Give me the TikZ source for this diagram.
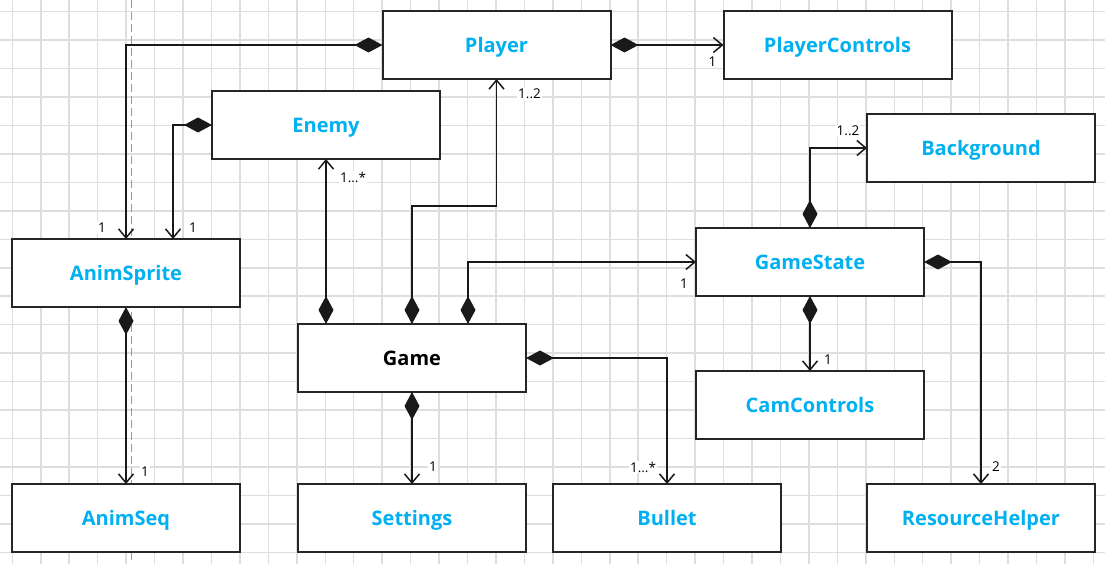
\documentclass[tikz,border=0pt]{standalone}
\usepackage{fontspec}
\setmainfont{Open Sans}
\usepackage{xcolor}
\usetikzlibrary{
    positioning,
    arrows.meta,
    calc
}
\definecolor{umlblue}{RGB}{0,176,240}
\tikzset{
    classbox/.style={
        rectangle, draw=black!85, line width=2pt, fill=white,
        minimum width=228pt, minimum height=68pt, outer sep=0pt,
        text height=17pt, text depth=2pt,
        font=\fontsize{20}{24}\selectfont\bfseries, text=umlblue
    },
    compose/.style={
        {Diamond[length=28pt,width=15pt]}-{Straight Barb[length=9pt,width=15pt]},
        line width=1.5pt, draw=black!90
    },
    multlabel/.style={
        font=\fontsize{13.5}{15}\selectfont, fill=white, inner sep=1pt
    },
    gridline/.style={
        draw=black!13, line width=1.5pt
    }
}

\begin{document}
\begin{tikzpicture}[x=1pt, y=-1pt, node distance=113pt]
    \useasboundingbox (0,0) rectangle (1105,564);
    \fill[white] (0,0) rectangle (1105,564);
    \foreach \gx in {0,...,38}
        \draw[gridline] (12.3+28.45*\gx,0) -- (12.3+28.45*\gx,564);
    \foreach \gy in {0,...,19}
        \draw[gridline] (0,11.7+28.45*\gy) -- (1105,11.7+28.45*\gy);
    \draw[black!40, line width=1pt, dash pattern=on 8pt off 4pt] (131,0) -- (131,564);

    \node[classbox] (player) at (496.5,45) {Player};
    \node[classbox, right=of player] (playerctl) {PlayerControls};
    \node[classbox] (enemy) at (326,125) {Enemy};
    \node[classbox] (animsprite) at (126,273) {AnimSprite};
    \node[classbox, below=177pt of animsprite] (animseq) {AnimSeq};
    \node[classbox, text=black] (game) at (412,358) {Game};
    \node[classbox, below=92pt of game] (settings) {Settings};
    \node[classbox, right=27pt of settings] (bullet) {Bullet};
    \node[classbox] (gamestate) at (810,262) {GameState};
    \node[classbox, below=75pt of gamestate] (camctl) {CamControls};
    \node[classbox] (background) at (981,148) {Background};
    \node[classbox, below=302pt of background] (reshelper) {ResourceHelper};

    \draw[compose] (player.west) -| (animsprite.north)
        node[multlabel, at end, xshift=-24pt, yshift=11pt] {1};
    \draw[compose] (enemy.west) -| ([xshift=47pt]animsprite.north)
        node[multlabel, at end, xshift=20pt, yshift=11pt] {1};
    \draw[compose] (enemy.south |- game.north) -- (enemy.south)
        node[multlabel, at end, xshift=27pt, yshift=-18pt] {1...*};
    \draw[compose] (game.north) -- ++(0,-118) -| (player.south)
        node[multlabel, at end, xshift=33pt, yshift=-15pt] {1..2};
    \draw[compose] ([xshift=56pt]game.north) |- (gamestate.west)
        node[multlabel, at end, xshift=-12pt, yshift=-22pt] {1};
    \draw[compose] (player.east) -- (playerctl.west)
        node[multlabel, at end, xshift=-11pt, yshift=-17pt] {1};
    \draw[compose] (animsprite.south) -- (animseq.north)
        node[multlabel, at end, xshift=19pt, yshift=12pt] {1};
    \draw[compose] (game.south) -- (settings.north)
        node[multlabel, at end, xshift=21pt, yshift=17pt] {1};
    \draw[compose] (game.east) -| (bullet.north)
        node[multlabel, at end, xshift=-24pt, yshift=17pt] {1...*};
    \draw[compose] (gamestate.north) |- (background.west)
        node[multlabel, at end, xshift=-19pt, yshift=17pt] {1..2};
    \draw[compose] (gamestate.south) -- (camctl.north)
        node[multlabel, at end, xshift=18pt, yshift=11pt] {1};
    \draw[compose] (gamestate.east) -| (reshelper.north)
        node[multlabel, at end, xshift=15pt, yshift=17pt] {2};
\end{tikzpicture}
\end{document}
